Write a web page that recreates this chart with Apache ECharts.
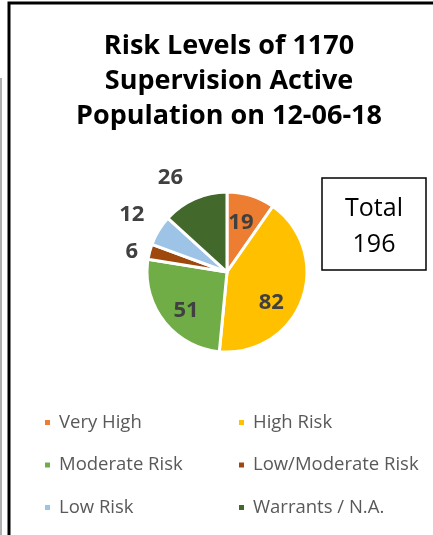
<!DOCTYPE html>
<html>
<head>
<meta charset="utf-8">
<script src="https://cdn.jsdelivr.net/npm/echarts@6/dist/echarts.min.js"></script>
<style>
  html, body { margin: 0; padding: 0; background: #fff; }
  #chart { width: 433px; height: 535px; }
</style>
</head>
<body>
<div id="chart"></div>
<script>
const CATEGORIES = ['Very High', 'High Risk', 'Moderate Risk', 'Low/Moderate Risk', 'Low Risk', 'Warrants / N.A.']
const COUNTS     = [19, 82, 51, 6, 12, 26]
const COLORS     = ['#ED7D31', '#FFC000', '#70AD47', '#9E480E', '#9DC3E6', '#43682B']
// Excel "best fit": small slices get their label outside
const LABEL_POS  = ['inside', 'inside', 'inside', 'outside', 'outside', 'outside']
const TOTAL      = 196

const FONT = '"Open Sans", Lato, sans-serif'
const CENTER = [227, 272]
// small nudges so labels sit where Excel's best-fit put them
const LABEL_NUDGE = [[1, -8], [4, 16], [-7, 12], [-7, -1], [-10, -14], [-5, -17]]

const chart = echarts.init(document.getElementById('chart'), null, { renderer: 'canvas' })

const data = CATEGORIES.map((name, i) => ({
  name,
  value: COUNTS[i],
  itemStyle: { color: COLORS[i] },
  label: { position: LABEL_POS[i] },
}))

const legendCommon = {
  orient: 'vertical',
  top: 408,
  icon: 'rect',
  itemWidth: 7,
  itemHeight: 7,
  itemGap: 23.5,
  selectedMode: false,
  textStyle: { color: '#595959', fontSize: 18.5, fontFamily: FONT, padding: [0, 0, 0, 3] },
}

chart.setOption({
  backgroundColor: '#fff',
  animation: false,
  title: {
    text: 'Risk Levels of 1170\nSupervision Active\nPopulation on 12-06-18',
    left: 224,
    top: 24,
    textAlign: 'center',
    textStyle: { color: '#000', fontSize: 27, fontWeight: 'bold', fontFamily: FONT, lineHeight: 35 },
  },
  legend: [
    { ...legendCommon, left: 38, data: [CATEGORIES[0], CATEGORIES[2], CATEGORIES[4]] },
    { ...legendCommon, left: 232, data: [CATEGORIES[1], CATEGORIES[3], CATEGORIES[5]] },
  ],
  graphic: [
    // chart frame
    { type: 'rect', shape: { x: 9, y: 3, width: 440, height: 560 },
      style: { fill: 'none', stroke: '#000', lineWidth: 3 }, silent: true },
    { type: 'rect', shape: { x: 0, y: 78, width: 2, height: 460 },
      style: { fill: '#b0b0b0' }, silent: true },
    // total box
    { type: 'rect', shape: { x: 322, y: 178, width: 104, height: 92 },
      style: { fill: '#fff', stroke: '#000', lineWidth: 1.5 }, silent: true },
    { type: 'text', x: 374, y: 209,
      style: { text: 'Total', font: '25px ' + FONT, fill: '#000', align: 'center', verticalAlign: 'middle' } },
    { type: 'text', x: 374, y: 245,
      style: { text: String(TOTAL), font: '25px ' + FONT, fill: '#000', align: 'center', verticalAlign: 'middle' } },
  ],
  series: [{
    type: 'pie',
    center: CENTER,
    radius: 80,
    startAngle: 90,
    clockwise: true,
    silent: true,
    itemStyle: { borderColor: '#fff', borderWidth: 3 },
    label: {
      show: true,
      formatter: '{c}',
      color: '#404040',
      fontSize: 22,
      fontWeight: 'bold',
      fontFamily: FONT,
    },
    labelLine: { show: false, length: 4, length2: 0 },
    labelLayout: (p) => ({ dx: LABEL_NUDGE[p.dataIndex][0], dy: LABEL_NUDGE[p.dataIndex][1] }),
    data,
  }],
})
</script>
</body>
</html>
